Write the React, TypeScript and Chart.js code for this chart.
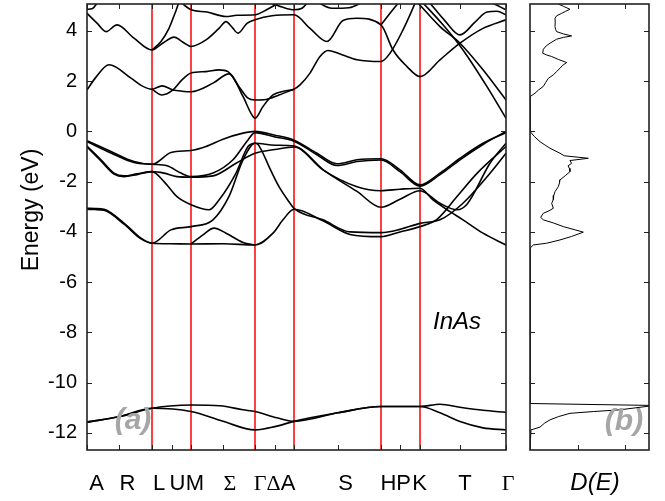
import React, { useEffect, useRef } from "react";
import { Chart, registerables } from "chart.js";

Chart.register(...registerables);

const SANS = "'Liberation Sans', Arial, sans-serif";
const SERIF = "'Liberation Serif', 'Times New Roman', serif";

// ---- axes ----
const E_MIN = -12.68;
const E_MAX = 5.07;
const K_MAX = 419;
const DOS_MAX = 2.5;
const energyTicks = [-12, -10, -8, -6, -4, -2, 0, 2, 4];
const kPointNames = ["A", "R", "L", "U", "M", "Σ", "Γ", "Δ", "A", "S", "H", "P", "K", "T", "Γ"];
const kPointPositions = [0, 32, 65, 85, 104, 136, 168, 188, 207, 251, 294, 313, 333, 373, 419];
const kLabelAnchors = [9.7, 40.5, 72, 90.5, 108, 143, 173, 186.5, 201, 258.5, 301.5, 316.5, 332.5, 378, 421];
const symmetryLines = [65, 104, 168, 207, 294, 333];
const dosTicks = [1, 2];

// ---- bands: [k, energy (eV)] ----
const coreLower = [[0, -11.57], [33, -11.35], [65, -11.02], [104, -11.15], [136, -11.54], [168, -11.88], [188, -11.75], [207, -11.54], [251, -11.2], [294, -10.95], [313, -10.95], [333, -10.95], [353, -11.2], [373, -11.55], [396, -11.8], [419, -11.88]];
const coreUpper = [[0, -11.57], [33, -11.35], [65, -11.02], [83, -10.93], [104, -10.89], [133, -10.92], [156, -11.08], [168, -11.15], [190, -11.4], [207, -11.54], [251, -11.2], [294, -10.95], [313, -10.95], [333, -10.95], [353, -10.86], [373, -10.98], [396, -11.1], [419, -11.18]];

const valTop = [[0, -0.37], [24, -0.8], [47, -1.2], [65, -1.31], [84, -0.84], [104, -0.76], [119, -0.6], [136, -0.31], [156, -0.07], [168, 0], [188, -0.15], [207, -0.35], [230, -0.87], [250, -1.29], [270, -1.13], [294, -1.09], [313, -1.53], [333, -2.13], [353, -1.66], [373, -1.07], [396, -0.47], [419, -0.05]];
const valTopPair = [[0, -0.41], [24, -0.86], [47, -1.24], [65, -1.31], [80, -1.37], [94, -1.66], [104, -1.8], [126, -1.66], [146, -1.13], [161, -0.34], [168, -0.05], [188, -0.22], [207, -0.39], [230, -0.93], [250, -1.36], [270, -1.2], [294, -1.14], [313, -1.6], [333, -2.18], [353, -1.72], [373, -1.13], [396, -0.52], [419, 0]];
const valMid = [[0, -0.58], [14, -1.13], [27, -1.66], [37, -1.77], [50, -1.69], [65, -1.6], [77, -1.66], [90, -1.8], [104, -1.82], [126, -1.77], [149, -1.27], [168, -0.87], [188, -0.72], [207, -0.62], [238, -1.58], [270, -2.39], [294, -3.02], [313, -2.7], [333, -2.36], [353, -2.86], [370, -3.12], [380, -2.9], [403, -1.27], [419, -0.47]];
const valMidPair = [[0, -0.62], [14, -1.18], [27, -1.7], [37, -1.8], [50, -1.72], [65, -1.6], [77, -2.0], [90, -2.6], [104, -2.92], [122, -3.12], [132, -2.73], [149, -1.66], [161, -0.6], [168, -0.47], [188, -0.55], [207, -0.58], [236, -1.53], [270, -2.2], [294, -2.36], [313, -2.3], [333, -2.26], [346, -2.73], [363, -3.19], [376, -3.52], [396, -4.05], [419, -4.52]];
const valDeep = [[0, -3.06], [8, -3.07], [17, -3.1], [37, -3.65], [54, -4.25], [65, -4.45], [84, -3.92], [104, -3.79], [126, -3.52], [142, -2.59], [156, -1.13], [168, -0.47], [171, -0.52], [176, -0.87], [182, -1.4], [192, -2.2], [202, -2.8], [207, -3.06], [236, -3.52], [263, -4.0], [294, -4.03], [313, -3.9], [333, -3.66], [353, -3.52], [376, -2.86], [403, -1.67], [419, -0.87]];
const valDeepPair = [[0, -3.1], [8, -3.11], [17, -3.14], [37, -3.69], [54, -4.28], [65, -4.45], [84, -4.47], [104, -4.48], [136, -4.47], [168, -4.52], [186, -4.05], [196, -3.52], [207, -3.1], [236, -3.56], [263, -4.1], [294, -4.19], [313, -4.0], [333, -3.79], [350, -3.5], [370, -2.59], [390, -1.67], [419, -0.6]];
const valBump = [[104, -4.48], [116, -4.12], [127, -3.85], [139, -4.05], [156, -4.42], [168, -4.52]];

const conLow = [[0, 1.65], [9, 2.16], [22, 2.65], [44, 2.12], [55, 1.81], [65, 1.68], [75, 1.81], [86, 1.65], [95, 1.6], [104, 1.58], [126, 1.92], [142, 2.29], [156, 1.39], [164, 0.72], [168, 0.52], [176, 0.99], [186, 1.45], [199, 1.62], [207, 1.68], [213, 1.85], [223, 2.32], [233, 2.98], [241, 3.22], [255, 3.05], [270, 2.85], [294, 2.78], [303, 3.11], [316, 4.04], [328, 5.1], [332, 5.5]];
const conLow2 = [[65, 1.68], [75, 1.45], [86, 1.65], [95, 2.05], [104, 2.32], [119, 2.38], [132, 2.45], [141, 2.38], [152, 1.78], [161, 1.32], [168, 1.25], [179, 1.27], [192, 1.45], [207, 1.68]];
const conMid = [[0, 4.7], [10, 4.31], [19, 3.97], [30, 4.24], [47, 3.71], [65, 3.24], [76, 3.52], [87, 3.75], [96, 3.55], [104, 3.38], [119, 3.64], [132, 4.1], [139, 4.37], [145, 4.15], [151, 3.91], [160, 4.3], [168, 4.44], [185, 4.6], [207, 4.64], [223, 4.1], [240, 3.58], [256, 4.41], [270, 4.5], [294, 4.24], [306, 3.24], [320, 2.58], [333, 2.18], [353, 2.85], [373, 3.51], [396, 4.1], [419, 4.44]];
const conHigh = [[65, 3.24], [74, 3.58], [82, 4.1], [88, 4.7], [93, 5.15], [98, 5.0], [104, 4.84], [120, 4.75], [139, 4.57], [150, 4.62], [168, 4.64], [180, 4.85], [195, 5.2]];
const conTopA = [[0, 4.86], [5, 4.88], [10, 5.1], [14, 5.4]];
const conTopH = [[294, 4.24], [303, 4.7], [313, 5.2]];
const conSteep1 = [[329, 5.2], [353, 4.17], [373, 3.51], [396, 2.45], [419, 1.25]];
const conSteep2 = [[334, 5.2], [356, 4.24], [376, 3.24], [400, 1.78], [419, 0.52]];
const conValley = [[341, 5.2], [358, 4.4], [373, 3.84], [388, 4.35], [400, 4.75], [410, 4.78], [419, 4.64]];
const conTopGamma = [[401, 5.2], [419, 4.84]];
const conTopDelta = [[178, 5.2], [195, 4.95], [207, 4.84], [215, 4.9], [222, 5.2]];
const conTopS = [[228, 5.2], [245, 4.9], [262, 4.92], [278, 5.2]];

const bands = [coreLower, coreUpper, valTop, valTopPair, valMid, valMidPair, valDeep, valDeepPair, valBump,
  conLow, conLow2, conMid, conHigh, conTopA, conTopH, conSteep1, conSteep2, conValley, conTopGamma, conTopDelta, conTopS];

// ---- density of states (energy top -> bottom) ----
const dosEnergy = [5.1, 5.07, 4.98, 4.86, 4.78, 4.7, 4.6, 4.5, 4.35, 4.17, 4.05, 3.97, 3.88, 3.8, 3.74, 3.67, 3.51, 3.4, 3.27, 3.11, 3.04, 2.98, 2.86, 2.74, 2.62, 2.51, 2.38, 2.25, 2.11, 1.95, 1.79, 1.65, 1.52, 1.38,
  0, -0.2, -0.41, -0.55, -0.67, -0.87, -0.97, -1.07, -1.16, -1.27, -1.37, -1.47, -1.6, -1.75, -1.93, -2.05, -2.2, -2.4, -2.55, -2.72, -2.86, -3.06, -3.16, -3.26, -3.42, -3.52, -3.65, -3.79, -3.92, -4.01, -4.18, -4.32, -4.45, -4.52, -4.65,
  -10.83, -10.905, -10.92, -10.935, -11.08, -11.15, -11.22, -11.35, -11.48, -11.62, -11.77, -11.88, -12.7];
const dosValue = [0.6, 0.595, 0.7, 0.84, 0.75, 0.665, 0.56, 0.525, 0.53, 0.525, 0.54, 0.56, 0.7, 0.875, 0.7, 0.56, 0.42, 0.34, 0.28, 0.266, 0.35, 0.455, 0.6, 0.77, 0.68, 0.63, 0.56, 0.49, 0.385, 0.33, 0.28, 0.18, 0.105, 0,
  0, 0.09, 0.21, 0.32, 0.42, 0.63, 0.72, 1.225, 0.84, 0.875, 0.8, 0.826, 0.84, 0.75, 0.63, 0.62, 0.595, 0.525, 0.5, 0.49, 0.455, 0.49, 0.4, 0.28, 0.224, 0.28, 0.5, 0.7, 0.95, 1.12, 0.875, 0.63, 0.35, 0.07, 0,
  0, 2.5, 4.5, 2.5, 1.89, 1.33, 0.84, 0.6, 0.42, 0.3, 0.21, 0.02, 0];

const FRAME = "#222";

function drawFrame(ctx: CanvasRenderingContext2D, a: any) {
  ctx.lineWidth = 1.6;
  ctx.strokeStyle = FRAME;
  ctx.strokeRect(a.left, a.top, a.right - a.left, a.bottom - a.top);
}

const leftDecor = {
  id: "leftDecor",
  afterDraw(chart: any) {
    const { ctx, chartArea: a, scales } = chart;
    const xs = scales.x;
    const ys = scales.y;
    ctx.save();
    ctx.strokeStyle = FRAME;
    ctx.lineWidth = 1;
    ctx.beginPath();
    energyTicks.forEach((v) => {
      const y = Math.round(ys.getPixelForValue(v)) + 0.5;
      ctx.moveTo(a.left, y); ctx.lineTo(a.left + 5, y);
      ctx.moveTo(a.right, y); ctx.lineTo(a.right - 5, y);
    });
    kPointPositions.forEach((v) => {
      const x = Math.round(xs.getPixelForValue(v)) + 0.5;
      ctx.moveTo(x, a.bottom); ctx.lineTo(x, a.bottom - 5);
      ctx.moveTo(x, a.top); ctx.lineTo(x, a.top + 5);
    });
    ctx.stroke();
    drawFrame(ctx, a);

    ctx.fillStyle = "#000";
    ctx.textAlign = "center";
    ctx.textBaseline = "middle";
    ctx.font = `italic 24px ${SANS}`;
    ctx.fillText("InAs", 457, 322);

    ctx.fillStyle = "#a6a6a6";
    ctx.font = `bold italic 30px ${SANS}`;
    ctx.fillText("(a)", 133, 421);

    ctx.fillStyle = "#000";
    ctx.font = `23px ${SANS}`;
    ctx.translate(32, 210);
    ctx.rotate(-Math.PI / 2);
    ctx.fillText("Energy (eV)", 0, 0);
    ctx.restore();
  },
};

const rightDecor = {
  id: "rightDecor",
  afterDraw(chart: any) {
    const { ctx, chartArea: a, scales } = chart;
    const xs = scales.x;
    const ys = scales.y;
    ctx.save();
    ctx.strokeStyle = FRAME;
    ctx.lineWidth = 1;
    ctx.beginPath();
    energyTicks.forEach((v) => {
      const y = Math.round(ys.getPixelForValue(v)) + 0.5;
      ctx.moveTo(a.left, y); ctx.lineTo(a.left + 5, y);
      ctx.moveTo(a.right, y); ctx.lineTo(a.right - 5, y);
    });
    dosTicks.forEach((v) => {
      const x = Math.round(xs.getPixelForValue(v)) + 0.5;
      ctx.moveTo(x, a.bottom); ctx.lineTo(x, a.bottom - 5);
      ctx.moveTo(x, a.top); ctx.lineTo(x, a.top + 5);
    });
    ctx.stroke();
    drawFrame(ctx, a);

    ctx.textAlign = "center";
    ctx.textBaseline = "middle";
    ctx.fillStyle = "#a6a6a6";
    ctx.font = `bold italic 30px ${SANS}`;
    ctx.fillText("(b)", 104, 422);

    ctx.fillStyle = "#000";
    ctx.font = `italic 24px ${SANS}`;
    ctx.fillText("D(E)", 75, 483);
    ctx.restore();
  },
};

export default function App() {
  const leftRef = useRef<HTMLCanvasElement | null>(null);
  const rightRef = useRef<HTMLCanvasElement | null>(null);

  useEffect(() => {
    Chart.defaults.font.family = SANS;
    const bandSets: any[] = bands.map((b) => ({
      data: b.map(([x, y]) => ({ x, y })),
      borderColor: "#000",
      borderWidth: 1.6,
      pointRadius: 0,
      fill: false,
      cubicInterpolationMode: "monotone",
      order: 1,
    }));
    const redSets: any[] = symmetryLines.map((k) => ({
      data: [{ x: k, y: E_MIN }, { x: k, y: E_MAX }],
      borderColor: "#ff0000",
      borderWidth: 1.5,
      pointRadius: 0,
      fill: false,
      order: 2,
    }));

    const left = new Chart(leftRef.current as HTMLCanvasElement, {
      type: "line",
      data: { datasets: [...bandSets, ...redSets] },
      options: {
        animation: false,
        responsive: false,
        events: [],
        layout: { padding: { left: 0, right: 14, top: 4, bottom: 0 } },
        plugins: { legend: { display: false }, tooltip: { enabled: false } },
        scales: {
          x: {
            type: "linear",
            min: 0,
            max: K_MAX,
            position: "bottom",
            afterBuildTicks: (s: any) => { s.ticks = kLabelAnchors.map((v) => ({ value: v })); },
            afterFit: (s: any) => { s.height = 51; s.paddingLeft = 0; s.paddingRight = 0; },
            grid: { display: false, drawTicks: false },
            border: { display: false },
            ticks: {
              autoSkip: false,
              maxRotation: 0,
              minRotation: 0,
              padding: 21,
              color: "#000",
              font: (c: any) => ({ family: /[ΣΓΔ]/.test(kPointNames[c.index] || "") ? SERIF : SANS, size: 22 }),
              callback: (_v: any, i: number) => kPointNames[i],
            },
          },
          y: {
            type: "linear",
            min: E_MIN,
            max: E_MAX,
            afterBuildTicks: (s: any) => { s.ticks = energyTicks.map((v) => ({ value: v })); },
            afterFit: (s: any) => { s.width = 87; s.paddingTop = 0; s.paddingBottom = 0; },
            grid: { display: false, drawTicks: false },
            border: { display: false },
            ticks: { padding: 10, color: "#000", font: { family: SANS, size: 20 }, callback: (v: any) => String(v) },
          },
        },
      } as any,
      plugins: [leftDecor],
    });

    const right = new Chart(rightRef.current as HTMLCanvasElement, {
      type: "line",
      data: {
        datasets: [{
          data: dosEnergy.map((e, i) => ({ x: dosValue[i], y: e })),
          borderColor: "#000",
          borderWidth: 1,
          pointRadius: 0,
          fill: false,
          tension: 0,
        }],
      },
      options: {
        animation: false,
        responsive: false,
        events: [],
        layout: { padding: { left: 10, right: 16, top: 4, bottom: 51 } },
        plugins: { legend: { display: false }, tooltip: { enabled: false } },
        scales: {
          x: { type: "linear", min: 0, max: DOS_MAX, display: false },
          y: { type: "linear", min: E_MIN, max: E_MAX, display: false },
        },
      } as any,
      plugins: [rightDecor],
    });

    return () => { left.destroy(); right.destroy(); };
  }, []);

  return (
    <div style={{ position: "fixed", left: 0, top: 0, width: 665, height: 501, background: "#fff" }}>
      <canvas ref={leftRef} width={520} height={501} style={{ position: "absolute", left: 0, top: 0 }} />
      <canvas ref={rightRef} width={145} height={501} style={{ position: "absolute", left: 520, top: 0 }} />
    </div>
  );
}
